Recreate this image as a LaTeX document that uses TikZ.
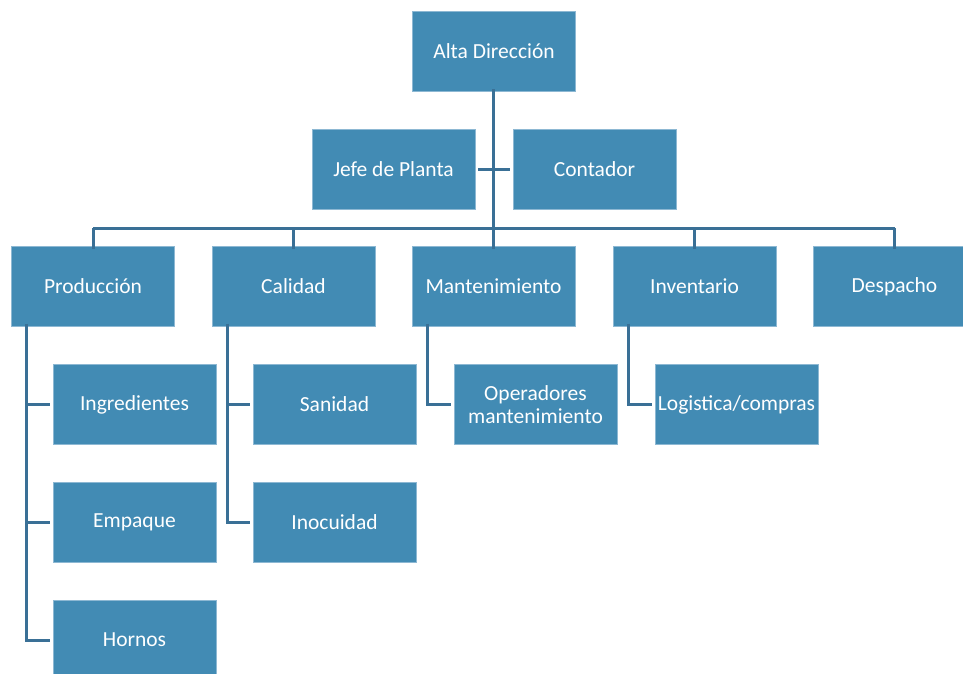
\documentclass[tikz,border=0pt]{standalone}
\usepackage{fontspec}
\setmainfont{Carlito}
\definecolor{boxfill}{HTML}{428BB4}
\definecolor{boxedge}{HTML}{8DB8D3}
\definecolor{linec}{HTML}{3A7096}
\begin{document}
\begin{tikzpicture}[x=1pt,y=-1pt,
  box/.style={draw=boxedge, line width=0.8pt, fill=boxfill, text=white, minimum width=163pt, minimum height=80pt, inner sep=1pt, align=center, font=\fontsize{21.5}{23}\selectfont},
  conn/.style={draw=linec, line width=3pt}]
\clip (0,0) rectangle (963,673);
\fill[white] (0,0) rectangle (963,673);
\node[box] (alta) at (494,51.5) {Alta Dirección};
\node[box] (jefe) at (393.5,169) {Jefe de Planta};
\node[box] (cont) at (594.5,169) {Contador};
\node[box] (prod) at (93,286.5) {Producción};
\node[box] (cal) at (293.5,286.5) {Calidad};
\node[box] (mant) at (493.5,286.5) {Mantenimiento};
\node[box] (inv) at (694.5,286.5) {Inventario};
\node[box] (desp) at (894.5,286.5) {Despacho};
\node[box] (ingr) at (134.5,404.5) {Ingredientes};
\node[box] (emp) at (134.5,522) {Empaque};
\node[box] (horn) at (134.5,640) {Hornos};
\node[box] (san) at (334.5,404.5) {Sanidad};
\node[box] (inoc) at (334.5,522) {Inocuidad};
\node[box] (oper) at (535.5,404.5) {Operadores\\mantenimiento};
\node[box] (log) at (736.5,404.5) {Logistica/compras};
\coordinate (bar) at (493,228);
% main trunk
\draw[conn] ([yshift=2.5pt]alta.south) ++(-1,0) -- ++(0,150);
\draw[conn] ([xshift=3pt]jefe.east) -- ([xshift=-3pt]cont.west);
\draw[conn] (prod.north |- bar) -- (desp.north |- bar);
\foreach \n in {prod,cal,mant,inv,desp}
  \draw[conn] (\n.north |- bar) -- ([yshift=-3pt]\n.north);
% Produccion children
\draw[conn] ([xshift=-67pt,yshift=3pt]prod.south) -- (26,640) -- ([xshift=-3pt]horn.west);
\draw[conn] (26,404.5) -- ([xshift=-3pt]ingr.west);
\draw[conn] (26,522) -- ([xshift=-3pt]emp.west);
% Calidad children
\draw[conn] ([xshift=-66.5pt,yshift=3pt]cal.south) -- (227,522) -- ([xshift=-3pt]inoc.west);
\draw[conn] (227,404.5) -- ([xshift=-3pt]san.west);
% Mantenimiento child
\draw[conn] ([xshift=-66.5pt,yshift=3pt]mant.south) -- (427,404.5) -- ([xshift=-3pt]oper.west);
% Inventario child
\draw[conn] ([xshift=-66.5pt,yshift=3pt]inv.south) -- (628,404.5) -- ([xshift=-3pt]log.west);
\end{tikzpicture}
\end{document}
